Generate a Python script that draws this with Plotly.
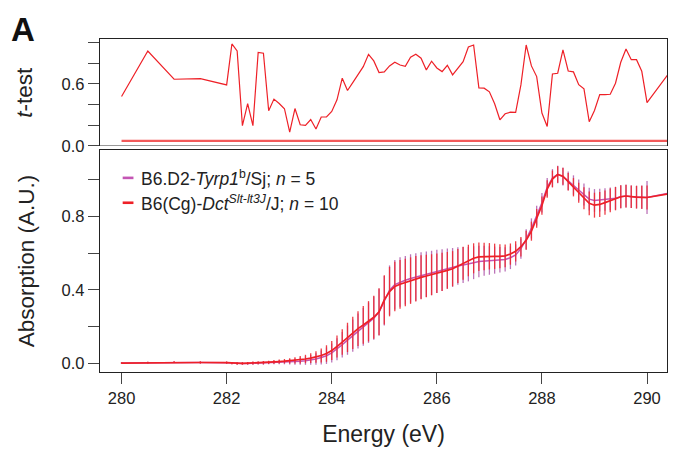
import plotly.graph_objects as go

energy = [280.0, 280.5, 281.0, 281.5,
          282.0, 282.1, 282.2, 282.3, 282.4, 282.5, 282.6, 282.7, 282.8, 282.9,
          283.0, 283.1, 283.2, 283.3, 283.4, 283.5, 283.6, 283.7, 283.8, 283.9,
          284.0, 284.1, 284.2, 284.3, 284.4, 284.5, 284.6, 284.7, 284.8, 284.9,
          285.0, 285.1, 285.2, 285.3, 285.4, 285.5, 285.6, 285.7, 285.8, 285.9,
          286.0, 286.1, 286.2, 286.3, 286.4, 286.5, 286.6, 286.7, 286.8, 286.9,
          287.0, 287.1, 287.2, 287.3, 287.4, 287.5, 287.6, 287.7, 287.8, 287.9,
          288.0, 288.1, 288.2, 288.3, 288.4, 288.5, 288.6, 288.7, 288.8, 288.9,
          289.0, 289.1, 289.2, 289.3, 289.4, 289.5, 289.6, 289.7, 289.8, 289.9,
          290.0, 290.5]

# B6(Cg)-Dct Slt-lt3J/J, n = 10
dct_mean = [0.000, 0.002, 0.005, 0.003,
            0.002, 0.000, -0.003, -0.002, -0.001, 0.000, 0.001, 0.002, 0.004, 0.006,
            0.008, 0.010, 0.012, 0.015, 0.018, 0.022, 0.027, 0.033, 0.041, 0.052,
            0.068, 0.090, 0.115, 0.140, 0.165, 0.188, 0.208, 0.228, 0.250, 0.280,
            0.345, 0.390, 0.418, 0.430, 0.440, 0.450, 0.460, 0.468, 0.475, 0.482,
            0.490, 0.498, 0.506, 0.515, 0.530, 0.545, 0.560, 0.572, 0.580, 0.582,
            0.583, 0.583, 0.583, 0.585, 0.595, 0.610, 0.635, 0.670, 0.720, 0.790,
            0.860, 0.950, 1.005, 1.030, 1.020, 0.990, 0.960, 0.930, 0.900, 0.872,
            0.862, 0.866, 0.876, 0.888, 0.898, 0.908, 0.912, 0.908, 0.906, 0.905,
            0.904, 0.928]
dct_err = [0.005, 0.005, 0.005, 0.006,
           0.006, 0.006, 0.007, 0.007, 0.007, 0.008, 0.008, 0.009, 0.009, 0.010,
           0.011, 0.012, 0.014, 0.017, 0.020, 0.023, 0.027, 0.032, 0.038, 0.045,
           0.052, 0.060, 0.070, 0.080, 0.088, 0.095, 0.103, 0.110, 0.118, 0.128,
           0.135, 0.135, 0.135, 0.133, 0.130, 0.127, 0.124, 0.120, 0.116, 0.112,
           0.108, 0.104, 0.100, 0.096, 0.093, 0.090, 0.086, 0.082, 0.078, 0.075,
           0.072, 0.069, 0.066, 0.062, 0.058, 0.055, 0.053, 0.052, 0.052, 0.051,
           0.050, 0.048, 0.046, 0.045, 0.046, 0.048, 0.050, 0.055, 0.060, 0.065,
           0.068, 0.068, 0.066, 0.065, 0.064, 0.063, 0.062, 0.062, 0.062, 0.063,
           0.065, 0.000]

# B6.D2-Tyrp1b/Sj, n = 5
tyrp_mean = [0.000, 0.002, 0.005, 0.003,
             0.002, 0.000, -0.003, -0.002, -0.002, -0.001, 0.000, 0.000, 0.002, 0.003,
             0.004, 0.005, 0.006, 0.008, 0.010, 0.013, 0.017, 0.022, 0.030, 0.040,
             0.055, 0.075, 0.100, 0.125, 0.150, 0.175, 0.198, 0.220, 0.245, 0.278,
             0.340, 0.398, 0.428, 0.442, 0.452, 0.462, 0.470, 0.478, 0.485, 0.492,
             0.500, 0.508, 0.515, 0.522, 0.530, 0.535, 0.540, 0.548, 0.555, 0.558,
             0.560, 0.562, 0.564, 0.566, 0.575, 0.590, 0.625, 0.675, 0.735, 0.805,
             0.875, 0.960, 1.010, 1.030, 1.018, 0.995, 0.972, 0.945, 0.920, 0.895,
             0.888, 0.890, 0.893, 0.896, 0.900, 0.908, 0.912, 0.908, 0.906, 0.905,
             0.904, 0.933]
tyrp_err = [0.005, 0.005, 0.005, 0.006,
            0.006, 0.006, 0.007, 0.007, 0.007, 0.008, 0.008, 0.009, 0.009, 0.010,
            0.011, 0.012, 0.014, 0.017, 0.020, 0.023, 0.027, 0.032, 0.038, 0.045,
            0.052, 0.060, 0.070, 0.080, 0.088, 0.095, 0.103, 0.110, 0.118, 0.128,
            0.135, 0.135, 0.135, 0.135, 0.133, 0.132, 0.130, 0.127, 0.124, 0.121,
            0.118, 0.114, 0.110, 0.106, 0.102, 0.098, 0.094, 0.090, 0.086, 0.082,
            0.078, 0.074, 0.070, 0.066, 0.062, 0.058, 0.055, 0.055, 0.055, 0.054,
            0.053, 0.051, 0.049, 0.048, 0.049, 0.051, 0.053, 0.057, 0.060, 0.062,
            0.062, 0.062, 0.062, 0.062, 0.062, 0.063, 0.062, 0.062, 0.062, 0.064,
            0.090, 0.000]

t_test = [0.478, 0.918, 0.645, 0.651,
          0.590, 0.986, 0.918, 0.196, 0.410, 0.196, 0.905, 0.896, 0.340, 0.453,
          0.410, 0.360, 0.135, 0.362, 0.205, 0.200, 0.256, 0.164, 0.280, 0.280,
          0.333, 0.446, 0.655, 0.536, 0.613, 0.696, 0.767, 0.886, 0.822, 0.709,
          0.716, 0.774, 0.809, 0.783, 0.771, 0.857, 0.886, 0.848, 0.735, 0.819,
          0.754, 0.719, 0.780, 0.687, 0.751, 0.815, 0.957, 0.976, 0.562, 0.559,
          0.523, 0.408, 0.253, 0.311, 0.327, 0.324, 0.590, 0.976, 0.774, 0.671,
          0.318, 0.189, 0.696, 0.703, 0.928, 0.725, 0.716, 0.593, 0.552, 0.234,
          0.343, 0.497, 0.497, 0.500, 0.607, 0.809, 0.937, 0.834, 0.834, 0.722,
          0.420, 0.760]

p_threshold = 0.05
threshold_x = [280.0, 290.5]

x_ticks = [280, 282, 284, 286, 288, 290]
abs_ticks = [0.0, 0.4, 0.8]
abs_minor_ticks = [0.2, 0.6, 1.0]
t_ticks = [0.0, 0.6]
t_minor_ticks = [0.2, 0.4, 0.8, 1.0]

legend_names = ["B6.D2-<i>Tyrp1</i><sup>b</sup>/Sj; <i>n</i> = 5",
                "B6(Cg)-<i>Dct</i><sup><i>Slt-lt3J</i></sup>/J; <i>n</i> = 10"]

RED = "#EE2027"
PINK = "#C455B4"
FONT = "Liberation Sans, Arial, sans-serif"
TXT = "#222222"

fig = go.Figure()

fig.add_trace(go.Scatter(
    x=energy, y=tyrp_mean, mode="lines", line=dict(color=PINK, width=1.5),
    error_y=dict(type="data", array=tyrp_err, visible=True, width=0,
                 thickness=1.3, color="rgba(176,90,172,0.85)"),
    xaxis="x", yaxis="y", showlegend=False))
fig.add_trace(go.Scatter(
    x=energy, y=dct_mean, mode="lines", line=dict(color=RED, width=1.7),
    error_y=dict(type="data", array=dct_err, visible=True, width=0,
                 thickness=1.3, color="rgba(236,40,50,0.9)"),
    xaxis="x", yaxis="y", showlegend=False))

fig.add_trace(go.Scatter(
    x=threshold_x, y=[p_threshold] * len(threshold_x), mode="lines",
    line=dict(color="#F25A5A", width=2.2), xaxis="x2", yaxis="y2", showlegend=False))
fig.add_trace(go.Scatter(
    x=energy, y=t_test, mode="lines", line=dict(color=RED, width=1.2),
    xaxis="x2", yaxis="y2", showlegend=False))

xr = [279.59, 290.38]
tick_style = dict(ticks="outside", ticklen=11, tickwidth=1.4, tickcolor="#444444")
axis_common = dict(showgrid=False, zeroline=False, automargin=False,
                   tickfont=dict(family=FONT, size=16.5, color=TXT), **tick_style)

# The page body adds an 8px offset, so the figure is 8px smaller on each side.
fig.update_layout(
    width=660, height=439,
    margin=dict(l=92, r=1.3, t=31, b=74.7, autoexpand=False),
    paper_bgcolor="white", plot_bgcolor="white",
    showlegend=False,
    xaxis=dict(domain=[0, 1], range=xr, anchor="y", tickvals=x_ticks,
               ticktext=[str(v) for v in x_ticks],
               showline=True, mirror=True, linecolor="#222222", linewidth=1.3,
               title=dict(text="Energy (eV)", font=dict(family=FONT, size=23, color=TXT),
                          standoff=21),
               **axis_common),
    yaxis=dict(domain=[0, 0.667], range=[-0.049, 1.164], anchor="x",
               tickvals=abs_ticks, ticktext=["%.1f" % v for v in abs_ticks],
               minor=dict(tickmode="array", tickvals=abs_minor_ticks, showgrid=False,
                          **tick_style),
               showline=True, mirror=True, linecolor="#222222", linewidth=1.3,
               title=dict(text="Absorption (A.U.)", font=dict(family=FONT, size=22.5, color=TXT),
                          standoff=20),
               **axis_common),
    xaxis2=dict(domain=[0, 1], range=xr, anchor="y2", side="top",
                showticklabels=False, ticks="", showline=True, mirror=False,
                linecolor="#222222", linewidth=1.3, showgrid=False, zeroline=False,
                automargin=False),
    yaxis2=dict(domain=[0.6775, 1], range=[-0.004, 1.034], anchor="x2",
                tickvals=t_ticks, ticktext=["%.1f" % v for v in t_ticks],
                minor=dict(tickmode="array", tickvals=t_minor_ticks, showgrid=False,
                           **tick_style),
                showline=True, mirror=True, linecolor="#222222", linewidth=1.3,
                title=dict(text="<i>t</i>-test", font=dict(family=FONT, size=22.5, color=TXT),
                           standoff=22),
                showgrid=False, zeroline=True, zerolinecolor="#999999", zerolinewidth=1,
                automargin=False,
                tickfont=dict(family=FONT, size=16.5, color=TXT), **tick_style),
)

# Panel label (kept fully inside the figure)
fig.add_annotation(text="<b>A</b>", xref="paper", yref="paper", x=-0.161, y=1.091,
                   xanchor="left", yanchor="top", showarrow=False,
                   font=dict(family=FONT, size=33, color="#111111"))

# Manual legend (short line samples + text)
legend_colors = [PINK, RED]
legend_y = [0.874, 0.762]
for name, col, ly in zip(legend_names, legend_colors, legend_y):
    fig.add_shape(type="line", xref="x domain", yref="y domain",
                  x0=0.040, x1=0.059, y0=ly, y1=ly,
                  line=dict(color=col, width=2.6))
    fig.add_annotation(text=name, xref="x domain", yref="y domain",
                       x=0.069, y=ly, xanchor="left", yanchor="middle",
                       showarrow=False, font=dict(family=FONT, size=17.5, color=TXT))

fig.write_html("out.html")
